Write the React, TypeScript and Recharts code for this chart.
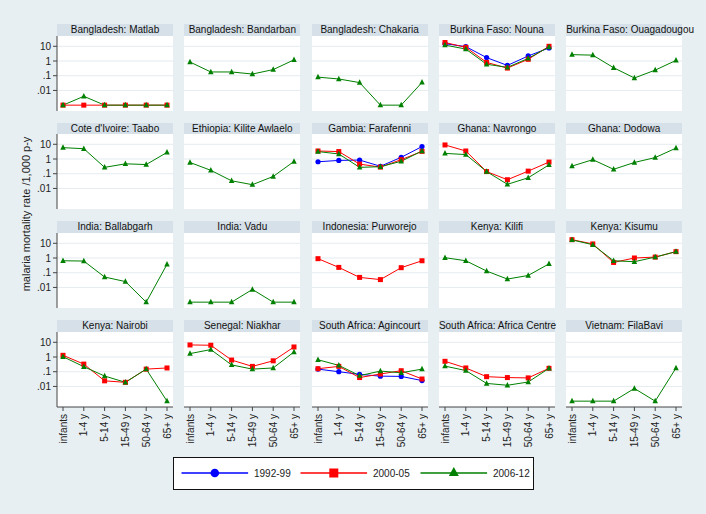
import React from 'react';
import { LineChart, Line, XAxis, YAxis, CartesianGrid } from 'recharts';

const ages = ['infants', '1-4 y', '5-14 y', '15-49 y', '50-64 y', '65+ y'];

const sites = [
  'Bangladesh: Matlab', 'Bangladesh: Bandarban', 'Bangladesh: Chakaria', 'Burkina Faso: Nouna', 'Burkina Faso: Ouagadougou',
  "Cote d'Ivoire: Taabo", 'Ethiopia: Kilite Awlaelo', 'Gambia: Farafenni', 'Ghana: Navrongo', 'Ghana: Dodowa',
  'India: Ballabgarh', 'India: Vadu', 'Indonesia: Purworejo', 'Kenya: Kilifi', 'Kenya: Kisumu',
  'Kenya: Nairobi', 'Senegal: Niakhar', 'South Africa: Agincourt', 'South Africa: Africa Centre', 'Vietnam: FilaBavi',
];

// per site, malaria mortality per 1,000 p-y by age group (null = no data for that period)
const p1992: (number[] | null)[] = [
  null, null, null, [15, 9.5, 1.7, 0.5, 2.2, 7.7], null,
  null, null, [0.65, 0.8, 0.85, 0.32, 1.3, 7], null, null,
  null, null, null, null, null,
  null, null, [0.15, 0.1, 0.066, 0.05, 0.048, 0.025], null, null,
];

const p2000: (number[] | null)[] = [
  [0.001, 0.001, 0.001, 0.001, 0.001, 0.001], null, null, [18, 8.5, 0.8, 0.33, 1.3, 10], null,
  null, null, [3.5, 3.2, 0.45, 0.28, 0.9, 3.3], [9, 3.5, 0.14, 0.039, 0.15, 0.62], null,
  null, null, [0.9, 0.23, 0.048, 0.034, 0.22, 0.65], null, [17.6, 9, 0.5, 1.0, 1.15, 2.7],
  [1.3, 0.33, 0.024, 0.019, 0.15, 0.18], [6.6, 6.3, 0.62, 0.23, 0.55, 4.8], [0.16, 0.23, 0.04, 0.07, 0.117, 0.032],
  [0.51, 0.18, 0.046, 0.04, 0.038, 0.17], null,
];

const p2006: (number[] | null)[] = [
  [0.001, 0.004, 0.001, 0.001, 0.001, 0.001], [0.85, 0.18, 0.18, 0.13, 0.26, 1.2], [0.08, 0.06, 0.034, 0.001, 0.001, 0.035],
  [12, 6.5, 0.6, 0.37, 1.5, 9], [2.7, 2.5, 0.35, 0.07, 0.24, 1.1],
  [5.9, 5, 0.27, 0.47, 0.42, 2.8], [0.58, 0.17, 0.033, 0.018, 0.065, 0.68], [3.2, 2.2, 0.27, 0.3, 0.7, 3.5],
  [2.4, 2, 0.14, 0.019, 0.053, 0.4], [0.33, 0.9, 0.2, 0.58, 1.25, 5.5],
  [0.65, 0.62, 0.051, 0.025, 0.001, 0.37], [0.001, 0.001, 0.001, 0.0073, 0.001, 0.001], null,
  [1.05, 0.65, 0.13, 0.037, 0.065, 0.4], [17, 8, 0.65, 0.56, 1.15, 2.7],
  [1.05, 0.22, 0.051, 0.019, 0.15, 0.001], [1.7, 3.2, 0.29, 0.15, 0.18, 2.2], [0.65, 0.27, 0.054, 0.11, 0.085, 0.15],
  [0.24, 0.12, 0.016, 0.012, 0.02, 0.17], [0.001, 0.001, 0.001, 0.0073, 0.001, 0.18],
];

const yTicks = [0.01, 0.1, 1, 10];
const periods = ['1992-99', '2000-05', '2006-12'];

const FONT = '"Liberation Sans", Arial, Helvetica, sans-serif';
const BLUE = '#0000ff';
const RED = '#ff0000';
const GREEN = '#008000';

const PLOT_W = 116;
const PLOT_H = 75;
const Y_AXIS_W = 30;
const X_AXIS_H = 50;
const colLeft = (i: number) => 57 + i * 127.3;
const rowTop = (j: number) => 35.5 + j * 98.7;

const fmtY = (v: number) => (v >= 1 ? String(v) : String(v).replace(/^0/, ''));

const circleDot = (r: number) => (p: any) =>
  <circle key={`c${p.index}`} cx={p.cx} cy={p.cy} r={r} fill={BLUE} stroke="none" />;
const squareDot = (s: number) => (p: any) =>
  <rect key={`s${p.index}`} x={p.cx - s / 2} y={p.cy - s / 2} width={s} height={s} fill={RED} stroke="none" />;
const triDot = (s: number) => (p: any) =>
  <polygon
    key={`t${p.index}`}
    points={`${p.cx},${p.cy - s * 0.6} ${p.cx - s / 2},${p.cy + s * 0.4} ${p.cx + s / 2},${p.cy + s * 0.4}`}
    fill={GREEN}
    stroke="none"
  />;

const XTick = (props: any) => {
  const { x, y, payload } = props;
  return (
    <g transform={`translate(${x},${y})`}>
      <text transform="rotate(-90)" textAnchor="end" dy="0.35em" fontSize={10} fill="#222" fontFamily={FONT}>
        {payload.value}
      </text>
    </g>
  );
};

const Panel: React.FC<{ idx: number }> = ({ idx }) => {
  const col = idx % 5;
  const row = Math.floor(idx / 5);
  const showY = col === 0;
  const showX = row === 3;
  const data = ages.map((age, k) => ({
    age,
    a: p1992[idx] ? p1992[idx]![k] : null,
    b: p2000[idx] ? p2000[idx]![k] : null,
    c: p2006[idx] ? p2006[idx]![k] : null,
  }));
  const left = colLeft(col);
  const top = rowTop(row);
  return (
    <>
      <div
        style={{
          position: 'absolute', left, top: top - 11.5, width: PLOT_W, height: 11.5,
          background: '#d5e0e8', fontSize: 10, lineHeight: '12px', textAlign: 'center',
          whiteSpace: 'nowrap', color: '#111', fontFamily: FONT,
        }}
      >
        {sites[idx]}
      </div>
      <div style={{ position: 'absolute', left: left - (showY ? Y_AXIS_W : 0), top }}>
        <LineChart
          width={PLOT_W + (showY ? Y_AXIS_W : 0)}
          height={PLOT_H + (showX ? X_AXIS_H : 0)}
          data={data}
          margin={{ top: 0, right: 0, bottom: 0, left: 0 }}
        >
          <CartesianGrid vertical={false} horizontalValues={yTicks} stroke="#e4ebef" fill="#ffffff" />
          <XAxis
            dataKey="age"
            hide={!showX}
            height={X_AXIS_H}
            padding={{ left: 6, right: 6 }}
            interval={0}
            tickSize={4}
            tickMargin={3}
            stroke="#444"
            tick={<XTick />}
          />
          <YAxis
            hide={!showY}
            width={Y_AXIS_W}
            type="number"
            scale="log"
            domain={[0.0004, 50]}
            ticks={yTicks}
            interval={0}
            tickFormatter={fmtY}
            tickSize={4}
            tickMargin={2}
            stroke="#444"
            tick={{ fontSize: 10, fill: '#222', fontFamily: FONT }}
          />
          {p1992[idx] && (
            <Line type="linear" dataKey="a" stroke={BLUE} strokeWidth={1} dot={circleDot(2.6)} isAnimationActive={false} />
          )}
          {p2000[idx] && (
            <Line type="linear" dataKey="b" stroke={RED} strokeWidth={1} dot={squareDot(5)} isAnimationActive={false} />
          )}
          {p2006[idx] && (
            <Line type="linear" dataKey="c" stroke={GREEN} strokeWidth={1} dot={triDot(5.5)} isAnimationActive={false} />
          )}
        </LineChart>
      </div>
    </>
  );
};

const LegendBox: React.FC = () => {
  const items = [
    { x: 7.5, color: BLUE, shape: 'c' },
    { x: 126.5, color: RED, shape: 's' },
    { x: 246.5, color: GREEN, shape: 't' },
  ];
  const cy = 16;
  return (
    <div
      style={{
        position: 'absolute', left: 172.5, top: 456.5, width: 361, height: 33,
        background: '#fff', border: '1px solid #111', boxSizing: 'border-box',
      }}
    >
      <svg width={359} height={31} style={{ display: 'block' }}>
        {items.map((it, i) => {
          const mx = it.x + 33.3;
          return (
            <g key={i}>
              <line x1={it.x} x2={it.x + 66.6} y1={cy - 1} y2={cy - 1} stroke={it.color} strokeWidth={1.4} />
              {it.shape === 'c' && <circle cx={mx} cy={cy - 1} r={4.3} fill={it.color} />}
              {it.shape === 's' && <rect x={mx - 4.5} y={cy - 5.5} width={9} height={9} fill={it.color} />}
              {it.shape === 't' && (
                <polygon points={`${mx},${cy - 7} ${mx - 5},${cy + 2} ${mx + 5},${cy + 2}`} fill={it.color} />
              )}
              <text x={it.x + 72.5} y={cy + 2.5} fontSize={10} fill="#222" fontFamily={FONT}>
                {periods[i]}
              </text>
            </g>
          );
        })}
      </svg>
    </div>
  );
};

export default function App() {
  return (
    <div style={{ position: 'absolute', left: 0, top: 0, width: 706, height: 514, background: '#e8eff2', overflow: 'hidden' }}>
      {sites.map((_, i) => (
        <Panel key={i} idx={i} />
      ))}
      <div
        style={{
          position: 'absolute', left: 26, top: 214, transform: 'translate(-50%, -50%) rotate(-90deg)',
          whiteSpace: 'nowrap', fontSize: 11, color: '#222', fontFamily: FONT,
        }}
      >
        malaria mortality rate /1,000 p-y
      </div>
      <LegendBox />
    </div>
  );
}
